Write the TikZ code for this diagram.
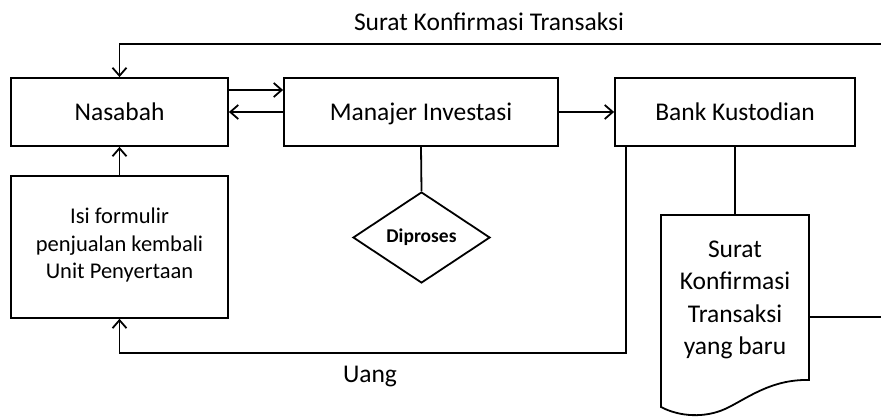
\documentclass[tikz,border=0pt]{standalone}
\usepackage{fontspec}
\setmainfont{Carlito}
\usetikzlibrary{shapes.geometric,arrows.meta}
\begin{document}
\begin{tikzpicture}[x=1pt,y=-1pt,
  line width=1.8pt,
  boxnode/.style={draw,rectangle,inner sep=0pt,text height=20pt,text depth=2pt,font=\fontsize{25.5}{30}\selectfont},
  smalltext/.style={font=\fontsize{22.5}{27.5}\selectfont,align=center},
  doctext/.style={font=\fontsize{25.5}{32.5}\selectfont,align=center,inner sep=0pt},
  lbl/.style={font=\fontsize{25.5}{30}\selectfont,inner sep=0pt},
  arr/.style={-{Straight Barb[length=8pt,width=14pt,line width=1.8pt]}}]
\useasboundingbox (0,0) rectangle (881,417);
% nodes
\node[boxnode,minimum width=217,minimum height=68] (nas) at (119.5,112) {Nasabah};
\node[boxnode,minimum width=274,minimum height=68] (mi) at (421,112) {Manajer Investasi};
\node[boxnode,minimum width=240,minimum height=68] (bk) at (735,112) {Bank Kustodian};
\node[draw,rectangle,inner sep=0pt,minimum width=217,minimum height=142,anchor=north] (isi) at (119.5,175) {};
\node[smalltext,inner sep=0pt] (isitext) at (119.5,245) {Isi formulir\\penjualan kembali\\Unit Penyertaan};
\node[draw,diamond,minimum width=137,minimum height=91,inner sep=0pt,font=\fontsize{19.5}{22}\selectfont\bfseries] (dia) at (421.5,237.5) {Diproses};
% document shape
\coordinate (doctop) at (735,215);
\coordinate (docright) at (809,317);
\draw[fill=white] (661,215) -- (809,215) -- (809,380)
  .. controls (770,379) and (745,400) .. (725,409)
  .. controls (705,418) and (680,417) .. (661,407) -- cycle;
\node[doctext] (doc) at (735,300) {Surat\\Konfirmasi\\Transaksi\\yang baru};
% labels
\node[lbl] (lsurat) at (489,22) {Surat Konfirmasi Transaksi};
\node[lbl] (luang) at (370,377) {Uang};
% connectors
\coordinate (topR) at (881,44);
\coordinate (rightEnd) at (881,317);
\draw[arr] (topR) -| (nas.north);
\draw[arr] ([yshift=22pt]nas.east) -- ([yshift=22pt]nas.east -| mi.west);
\draw[arr] (mi.west) -- (nas.east);
\draw[arr] (mi.east) -- (bk.west);
\draw (mi.south) -- (dia.north);
\draw (bk.south) -- (doctop);
\draw (docright) -- (rightEnd);
\draw[arr] (isi.north) -- (nas.south);
\draw[arr] ([xshift=12pt]bk.south west) -- ++(0,206) -| (isi.south);
\end{tikzpicture}
\end{document}
